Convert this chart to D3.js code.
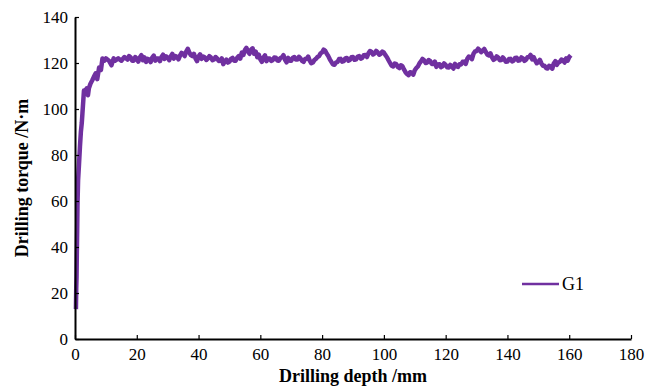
<!DOCTYPE html>
<html>
<head>
<meta charset="utf-8">
<script src="https://cdn.jsdelivr.net/npm/d3@7"></script>
<style>
  body { margin: 0; background: #fff; }
  svg text { font-family: "Liberation Serif", "Times New Roman", serif; }
</style>
</head>
<body>
<svg id="chart"></svg>
<script>
// depth (mm)
const depth = [0.3, 0.4, 0.5, 0.6, 0.7, 0.8, 1.0, 1.3, 1.6, 1.9, 2.2, 2.4, 2.7, 2.9, 3.3, 3.8,
  4.2, 4.5, 5.0, 5.6, 6.1, 6.7, 7.2, 7.8, 8.4, 8.9, 9.5, 10, 11, 11.8, 12.5, 13, 14, 15, 16,
  17, 17.5, 18, 18.5, 19, 19.5, 20, 20.5, 21, 21.5, 22, 22.5, 23, 23.5, 24, 24.5, 25, 25.5,
  26, 26.5, 27, 27.5, 28, 28.5, 29, 29.5, 30, 30.5, 31, 31.5, 32, 32.5, 33, 33.5, 34, 34.5,
  35, 35.5, 36, 36.5, 37, 37.5, 38, 38.5, 39, 39.5, 40, 40.5, 41, 41.5, 42, 42.5, 43, 43.5,
  44, 44.5, 45, 45.5, 46, 46.5, 47, 47.5, 48, 48.5, 49, 49.5, 50, 50.5, 51, 51.5, 52, 52.5,
  53, 53.5, 54, 54.5, 55, 55.5, 56, 56.5, 57, 57.5, 58, 58.5, 59, 59.5, 60, 60.5, 61, 61.5,
  62, 62.5, 63, 63.5, 64, 64.5, 65, 65.5, 66, 66.5, 67, 67.5, 68, 68.5, 69, 69.5, 70, 70.5,
  71, 71.5, 72, 72.5, 73, 73.5, 74, 74.5, 75, 75.5, 76, 76.5, 77, 77.5, 78, 78.5, 79, 79.5,
  80, 80.5, 81, 81.5, 82, 82.5, 83, 83.5, 84, 84.5, 85, 85.5, 86, 86.5, 87, 87.5, 88, 88.5,
  89, 89.5, 90, 90.5, 91, 91.5, 92, 92.5, 93, 93.5, 94, 94.5, 95, 95.5, 96, 96.5, 97, 97.5,
  98, 98.5, 99, 99.5, 100, 100.5, 101, 101.5, 102, 102.5, 103, 103.5, 104, 104.5, 105, 105.5,
  106, 106.5, 107, 107.5, 108, 108.5, 109, 109.5, 110, 110.5, 111, 111.5, 112, 112.5, 113, 113.5,
  114, 114.5, 115, 115.5, 116, 116.5, 117, 117.5, 118, 118.5, 119, 119.5, 120, 120.5, 121, 121.5,
  122, 122.5, 123, 123.5, 124, 124.5, 125, 125.5, 126, 126.5, 127, 127.5, 128, 128.5, 129, 129.5,
  130, 130.5, 131, 131.5, 132, 132.5, 133, 133.5, 134, 134.5, 135, 135.5, 136, 136.5, 137, 137.5,
  138, 138.5, 139, 139.5, 140, 140.5, 141, 141.5, 142, 142.5, 143, 143.5, 144, 144.5, 145, 145.5,
  146, 146.5, 147, 147.5, 148, 148.5, 149, 149.5, 150, 150.5, 151, 151.5, 152, 152.5, 153, 153.5,
  154, 154.5, 155, 155.5, 156, 156.5, 157, 157.5, 158, 158.5, 159, 159.5, 160, 160.5];

// torque (N·m) for G1
const torque = [13, 22, 27, 38, 47, 58, 69, 76, 83.5, 90, 94, 98, 104, 108, 107, 109,
  106, 109, 111, 112.5, 114, 115.5, 113, 118, 117, 122, 121, 122, 121, 119, 122, 121, 122, 121, 122.6,
  121.5, 123, 122.5, 121, 121, 122.6, 121.8, 120.6, 122.5, 123.4, 121.2, 122.4, 120.5, 121.8, 121.6, 120.4, 122.3, 123.2,
  121, 122, 122, 120.8, 122.6, 123.6, 121.8, 122.9, 122.4, 121.2, 122.9, 124, 121.9, 123, 122.7, 121.6, 123.2, 124.4,
  124, 123, 125, 126.2, 124.6, 123.4, 123, 124, 122, 120.8, 122.8, 123.8, 121.8, 122.8, 122.5, 121.3, 121.9, 123,
  122.4, 121.2, 121.5, 122.6, 122, 120.9, 121, 122, 119.5, 120.6, 121.5, 120.2, 120.6, 121.8, 122.2, 121, 121, 122.3,
  123, 121.9, 124.5, 123.5, 125.6, 126.6, 125, 124, 125.8, 126.4, 124, 125, 122.5, 123.6, 121.6, 120.5, 122.4, 123.3,
  120.8, 122, 122, 120.9, 121.2, 122.4, 122.3, 121.1, 121, 122.2, 122.5, 123.4, 121.4, 120.3, 122.2, 121, 121, 122.3,
  122.6, 121.5, 121.5, 122.7, 122, 120.9, 120.5, 121.7, 121.8, 122.8, 121, 119.9, 120.2, 121.3, 121.8, 122.6, 123, 124.2,
  124.6, 125.8, 125.3, 124, 123, 121.6, 120.5, 119.4, 119.2, 120.2, 120.5, 121.7, 121.8, 120.6, 120.8, 122, 122.2, 121,
  121.3, 122.5, 122.6, 121.4, 121.6, 122.8, 123, 121.9, 122.2, 123.4, 123.5, 122.6, 124.2, 125.2, 124.8, 123.7, 124.2, 125.3,
  124.6, 123.6, 124, 125, 124.5, 123.4, 122.5, 121.2, 120, 118.8, 118.5, 119.8, 119.5, 118.3, 117.8, 119,
  118.6, 117.2, 116, 115.2, 114.7, 116, 115.8, 114.9, 116.8, 117.8, 118.5, 119.8, 120.7, 121.8, 121.2, 120,
  120.2, 121.3, 120.8, 119.6, 119.6, 120.6, 118.3, 119.4, 119.5, 118.2, 118.6, 119.8, 119.2, 118.1, 118, 119.2,
  118.6, 117.6, 119.6, 118.5, 118.3, 119.5, 119.4, 120.5, 120.6, 119.6, 121.8, 122.8, 122.6, 121.7, 124, 125,
  125.2, 126.2, 125.6, 124.7, 125.3, 126.1, 124.8, 123.6, 123.3, 124.2, 122.5, 121.4, 121.8, 122.9, 122.4, 121.2,
  121.3, 122.4, 121.6, 120.5, 120.6, 121.7, 121.8, 120.7, 121, 122.2, 122.3, 121, 121.2, 122.4, 122, 120.9,
  121.4, 122.5, 122.6, 123.5, 121.6, 122.6, 121, 119.9, 120.4, 121.4, 119.8, 118.8, 118.8, 117.8, 117.6, 118.8,
  118.5, 117.5, 119.8, 120.8, 119.2, 120.3, 120.5, 121.5, 121.2, 120.2, 122, 121, 122.6, 123.4];

const xTicks = [0, 20, 40, 60, 80, 100, 120, 140, 160, 180];
const yTicks = [0, 20, 40, 60, 80, 100, 120, 140];
const seriesName = 'G1';

const width = 656, height = 392;
const margin = { top: 17, right: 25, bottom: 53, left: 75 };
const color = '#7030a0';

const svg = d3.select('#chart')
  .attr('width', width)
  .attr('height', height);

const x = d3.scaleLinear().domain([0, 180]).range([margin.left, width - margin.right]);
const y = d3.scaleLinear().domain([0, 140]).range([height - margin.bottom, margin.top]);

const data = depth.map((d, i) => ({ depth: d, torque: torque[i] }));

// curve
svg.append('path')
  .datum(data)
  .attr('fill', 'none')
  .attr('stroke', color)
  .attr('stroke-width', 4.5)
  .attr('stroke-linejoin', 'round')
  .attr('d', d3.line().x(d => x(d.depth)).y(d => y(d.torque)));

// axes, ticks pointing inward
const xAxis = svg.append('g')
  .attr('transform', `translate(0,${y(0)})`)
  .call(d3.axisBottom(x).tickValues(xTicks).tickSize(-4).tickPadding(8).tickSizeOuter(0));

const yAxis = svg.append('g')
  .attr('transform', `translate(${x(0)},0)`)
  .call(d3.axisLeft(y).tickValues(yTicks).tickSize(-4).tickPadding(7).tickSizeOuter(0));

[xAxis, yAxis].forEach(g => {
  g.select('.domain').attr('stroke', '#000').attr('stroke-width', 2);
  g.selectAll('.tick line').attr('stroke', '#000').attr('stroke-width', 1.2);
  g.selectAll('.tick text')
    .attr('fill', '#000')
    .style('font-family', '"Liberation Serif", serif')
    .style('font-size', '17px');
});
xAxis.selectAll('.tick text').attr('dy', '0.75em');

// axis titles
svg.append('text')
  .attr('x', (x(0) + x(180)) / 2)
  .attr('y', 382)
  .attr('text-anchor', 'middle')
  .style('font-size', '18px')
  .style('font-weight', 'bold')
  .text('Drilling depth /mm');

svg.append('text')
  .attr('transform', `translate(28,${(y(0) + y(140)) / 2}) rotate(-90)`)
  .attr('text-anchor', 'middle')
  .style('font-size', '18px')
  .style('font-weight', 'bold')
  .text('Drilling torque /N·m');

// legend
const legend = svg.append('g').attr('transform', 'translate(522,284)');
legend.append('line')
  .attr('x1', 0).attr('x2', 37)
  .attr('stroke', color)
  .attr('stroke-width', 2.5);
legend.append('text')
  .attr('x', 40)
  .attr('y', 6)
  .style('font-size', '18px')
  .text(seriesName);
</script>
</body>
</html>
